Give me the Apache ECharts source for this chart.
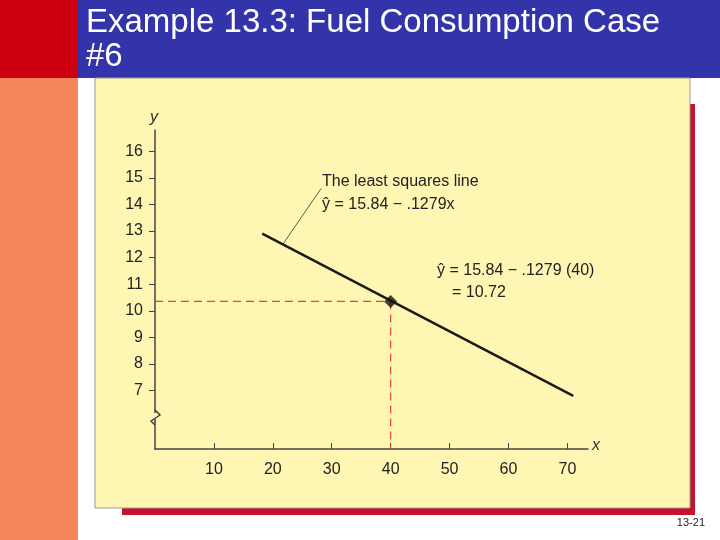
<!DOCTYPE html>
<html>
<head>
<meta charset="utf-8">
<script src="https://cdn.jsdelivr.net/npm/echarts@6/dist/echarts.min.js"></script>
<style>html,body{margin:0;padding:0;}#chart{width:720px;height:540px;}</style>
</head>
<body>
<div id="chart"></div>
<script>
// values
const xTicks = [10, 20, 30, 40, 50, 60, 70];
const yTicks = [7, 8, 9, 10, 11, 12, 13, 14, 15, 16];
const fitLine = [[18.2, 12.9], [71, 6.8]];
const predicted = [[40, 10.35]];
const guideH = [[0, 10.35], [40, 10.35]];
const guideV = [[40, 10.35], [40, 4.8]];
const leader = [[28.2, 14.6], [21.7, 12.5]];

const chart = echarts.init(document.getElementById("chart"));
const font = "Liberation Sans, Arial, sans-serif";

const option = {
  backgroundColor: "#ffffff",
  animation: false,
  grid: { left: 155, top: 130, width: 433, height: 319 },
  xAxis: {
    type: "value", min: 0, max: 73.5,
    splitLine: { show: false },
    axisLine: { lineStyle: { color: "#444", width: 1.5 } },
    axisTick: { inside: true, length: 6, customValues: xTicks, lineStyle: { color: "#444" } },
    axisLabel: { customValues: xTicks, color: "#222", fontSize: 16, fontFamily: font, margin: 13 }
  },
  yAxis: {
    type: "value", min: 4.8, max: 16.8,
    splitLine: { show: false },
    axisLine: { show: true, lineStyle: { color: "#444", width: 1.5 } },
    axisTick: { show: true, length: 6, customValues: yTicks, lineStyle: { color: "#444" } },
    axisLabel: { customValues: yTicks, color: "#222", fontSize: 16, fontFamily: font, margin: 12 }
  },
  series: [
    { type: "line", data: guideH, symbol: "none", lineStyle: { color: "#e8452e", width: 1.2, type: [8, 5] } },
    { type: "line", data: guideV, symbol: "none", lineStyle: { color: "#e8452e", width: 1.2, type: [8, 5] } },
    { type: "line", data: fitLine, symbol: "none", lineStyle: { color: "#1a1a1a", width: 2.4 } },
    { type: "line", data: leader, symbol: "none", lineStyle: { color: "#333", width: 0.8 } },
    { type: "scatter", data: predicted, symbol: "diamond", symbolSize: 13, itemStyle: { color: "#111" }, z: 5 }
  ],
  graphic: [
    { type: "rect", z: -20, shape: { x: 0, y: 0, width: 78, height: 78 }, style: { fill: "#cc0010" } },
    { type: "rect", z: -20, shape: { x: 0, y: 78, width: 78, height: 462 }, style: { fill: "#f4875c" } },
    { type: "rect", z: -20, shape: { x: 78, y: 0, width: 642, height: 78 }, style: { fill: "#3333aa" } },
    { type: "rect", z: -19, shape: { x: 122, y: 104, width: 573, height: 411 }, style: { fill: "#c41230" } },
    { type: "rect", z: -18, shape: { x: 95, y: 78, width: 595, height: 430 }, style: { fill: "#fff6b3", stroke: "#999", lineWidth: 1 } },
    { type: "polyline", z: 10, shape: { points: [[155, 410], [160, 415], [151, 421], [155, 425]] },
      style: { stroke: "#444", lineWidth: 1.5, fill: null } },
    { type: "rect", z: 9, shape: { x: 151, y: 413, width: 8, height: 6 }, style: { fill: "#fff6b3" } },
    { type: "text", z: 10, style: { x: 86, y: 23, text: "Example 13.3: Fuel Consumption Case", fill: "#fff", font: "33px " + font, verticalAlign: "middle" } },
    { type: "text", z: 10, style: { x: 86, y: 57, text: "#6", fill: "#fff", font: "33px " + font, verticalAlign: "middle" } },
    { type: "text", z: 10, style: { x: 150, y: 118, text: "y", fill: "#333", font: "italic 16px " + font, verticalAlign: "middle" } },
    { type: "text", z: 10, style: { x: 592, y: 446, text: "x", fill: "#333", font: "italic 16px " + font, verticalAlign: "middle" } },
    { type: "text", z: 10, style: { x: 322, y: 182, text: "The least squares line", fill: "#222", font: "16px " + font, verticalAlign: "middle" } },
    { type: "text", z: 10, style: { x: 322, y: 205, text: "ŷ = 15.84 − .1279x", fill: "#222", font: "16px " + font, verticalAlign: "middle" } },
    { type: "text", z: 10, style: { x: 437, y: 271, text: "ŷ = 15.84 − .1279 (40)", fill: "#222", font: "16px " + font, verticalAlign: "middle" } },
    { type: "text", z: 10, style: { x: 452, y: 293, text: "= 10.72", fill: "#222", font: "16px " + font, verticalAlign: "middle" } },
    { type: "text", z: 10, style: { x: 705, y: 523, text: "13-21", fill: "#222", font: "11px " + font, align: "right", verticalAlign: "middle" } }
  ]
};

chart.setOption(option);
window.addEventListener("resize", function () { chart.resize(); });
</script>
</body>
</html>
